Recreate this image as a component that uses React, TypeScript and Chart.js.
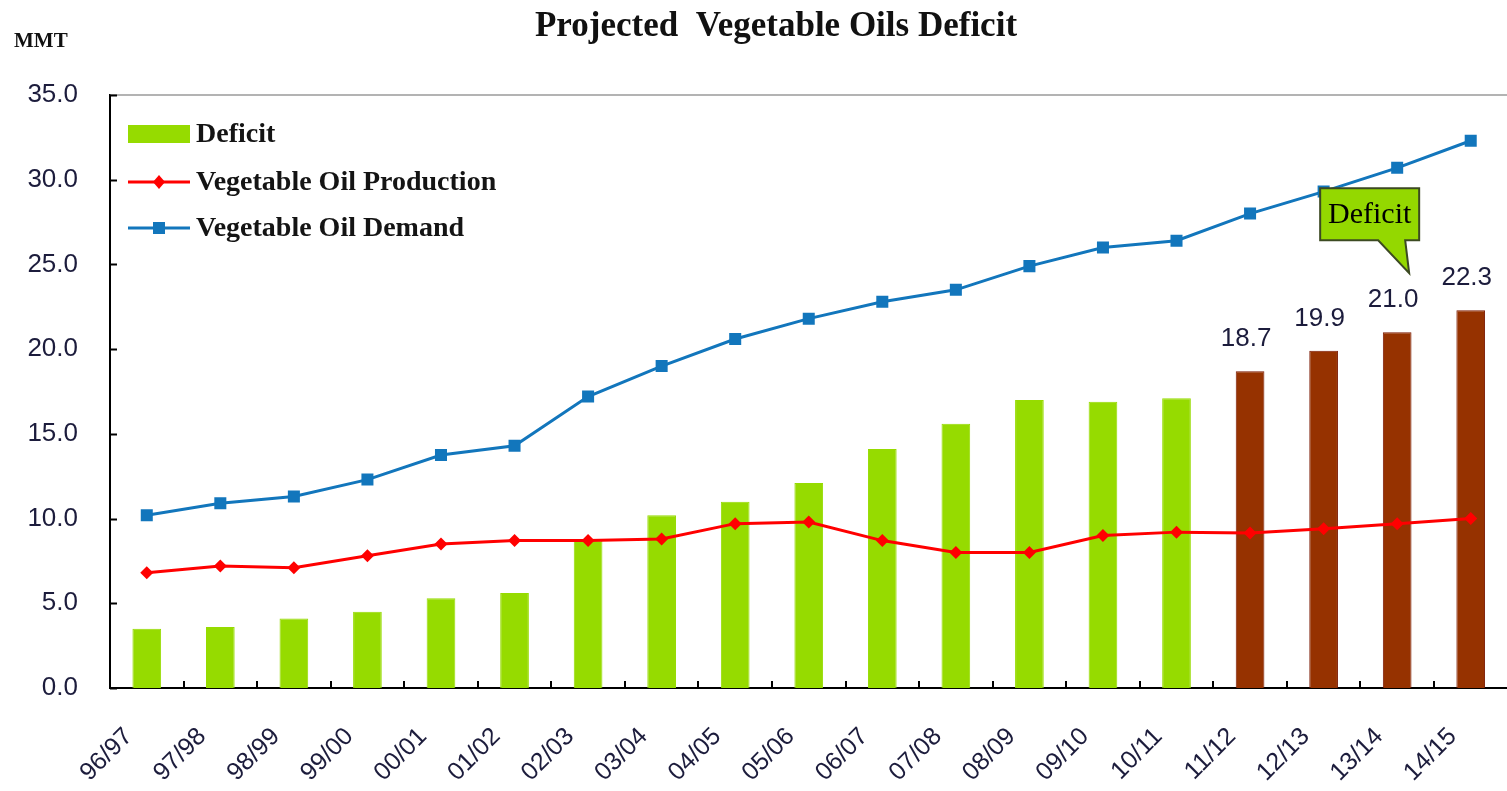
import React, { useEffect, useRef } from "react";
import { Chart, registerables } from "chart.js";

Chart.register(...registerables);

const categories = [
  "96/97", "97/98", "98/99", "99/00", "00/01", "01/02", "02/03", "03/04", "04/05", "05/06",
  "06/07", "07/08", "08/09", "09/10", "10/11", "11/12", "12/13", "13/14", "14/15",
];
const deficit = [3.5, 3.6, 4.1, 4.5, 5.3, 5.6, 8.7, 10.2, 11.0, 12.1, 14.1, 15.6, 17.0, 16.9, 17.1, 18.7, 19.9, 21.0, 22.3];
const production = [6.8, 7.2, 7.1, 7.8, 8.5, 8.7, 8.7, 8.8, 9.7, 9.8, 8.7, 8.0, 8.0, 9.0, 9.2, 9.15, 9.4, 9.7, 10.0];
const demand = [10.2, 10.9, 11.3, 12.3, 13.75, 14.3, 17.2, 19.0, 20.6, 21.8, 22.8, 23.5, 24.9, 26.0, 26.4, 28.0, 29.3, 30.7, 32.3];
const yTickValues = [0, 5, 10, 15, 20, 25, 30, 35];
const firstProjected = "11/12";
const calloutCategory = "13/14";

const TITLE = "Projected  Vegetable Oils Deficit";
const UNIT = "MMT";
const CALLOUT_TEXT = "Deficit";
const SERIES_NAMES = ["Deficit", "Vegetable Oil Production", "Vegetable Oil Demand"];

const GREEN = "#96DB00";
const BROWN = "#963200";
const BROWN_BORDER = "#7A1800";
const RED = "#FF0000";
const BLUE = "#1276BC";
const SERIF = "'Liberation Serif', 'Times New Roman', serif";
const SANS = "'Liberation Sans', Arial, sans-serif";
const TEXT_DARK = "#1c1c3c";

const VIEW_W = 1507;
const VIEW_H = 791;
const CANVAS_W = 1516;

export default function App() {
  const ref = useRef<HTMLCanvasElement>(null);

  useEffect(() => {
    document.body.style.margin = "0";
    const projStart = categories.indexOf(firstProjected);
    const barColors = categories.map((_, i) => (i >= projStart ? BROWN : GREEN));
    const barBorders = categories.map((_, i) => (i >= projStart ? BROWN_BORDER : GREEN));

    const decorPlugin = {
      id: "decor",
      afterDraw(chart: any) {
        const ctx = chart.ctx as CanvasRenderingContext2D;
        const area = chart.chartArea;
        const xs = chart.scales.x;
        const ys = chart.scales.y;
        ctx.save();

        // top frame line
        ctx.strokeStyle = "#9a9a9a";
        ctx.lineWidth = 1.5;
        ctx.beginPath();
        ctx.moveTo(area.left, area.top);
        ctx.lineTo(chart.width, area.top);
        ctx.stroke();

        // inward tick marks
        ctx.strokeStyle = "#000";
        ctx.lineWidth = 2;
        yTickValues.forEach((v) => {
          const y = Math.round(ys.getPixelForValue(v)) + 0.5;
          ctx.beginPath();
          ctx.moveTo(area.left, y);
          ctx.lineTo(area.left + 7, y);
          ctx.stroke();
        });
        for (let i = 1; i < categories.length; i++) {
          const x = Math.round((xs.getPixelForValue(i - 1) + xs.getPixelForValue(i)) / 2);
          ctx.beginPath();
          ctx.moveTo(x, area.bottom);
          ctx.lineTo(x, area.bottom - 7);
          ctx.stroke();
        }

        // title and unit
        ctx.fillStyle = "#111";
        ctx.font = `bold 35px ${SERIF}`;
        ctx.textAlign = "center";
        ctx.textBaseline = "middle";
        ctx.fillText(TITLE, 776, 27);
        ctx.font = `bold 21px ${SERIF}`;
        ctx.textAlign = "left";
        ctx.fillText(UNIT, 14, 42);

        // legend
        const rows = [134, 182, 228];
        const sx0 = area.left + 18;
        const sx1 = area.left + 80;
        ctx.fillStyle = GREEN;
        ctx.fillRect(sx0, rows[0] - 9, sx1 - sx0, 18);
        [RED, BLUE].forEach((c, k) => {
          const y = rows[k + 1];
          ctx.strokeStyle = c;
          ctx.lineWidth = 3;
          ctx.beginPath();
          ctx.moveTo(sx0, y);
          ctx.lineTo(sx1, y);
          ctx.stroke();
          ctx.fillStyle = c;
          const mx = (sx0 + sx1) / 2;
          if (k === 0) {
            ctx.beginPath();
            ctx.moveTo(mx, y - 7);
            ctx.lineTo(mx + 6, y);
            ctx.lineTo(mx, y + 7);
            ctx.lineTo(mx - 6, y);
            ctx.closePath();
            ctx.fill();
          } else {
            ctx.fillRect(mx - 6, y - 6, 12, 12);
          }
        });
        ctx.fillStyle = "#141414";
        ctx.font = `bold 28px ${SERIF}`;
        ctx.textAlign = "left";
        ctx.textBaseline = "middle";
        SERIES_NAMES.forEach((n, k) => ctx.fillText(n, sx1 + 6, rows[k] + 1));

        // value labels on projected bars
        const barMeta = chart.getDatasetMeta(0);
        ctx.fillStyle = TEXT_DARK;
        ctx.font = `26px ${SANS}`;
        ctx.textAlign = "center";
        ctx.textBaseline = "bottom";
        for (let i = projStart; i < categories.length; i++) {
          const el = barMeta.data[i];
          ctx.fillText(deficit[i].toFixed(1), el.x - 4, el.y - 19);
        }

        // callout
        const ci = categories.indexOf(calloutCategory);
        const cel = barMeta.data[ci];
        const tipX = cel.x + 12;
        const tipY = cel.y - 59;
        const L = tipX - 89, R = tipX + 10, T = tipY - 85, B = tipY - 33;
        ctx.beginPath();
        ctx.moveTo(L, T);
        ctx.lineTo(R, T);
        ctx.lineTo(R, B);
        ctx.lineTo(tipX - 4, B);
        ctx.lineTo(tipX, tipY);
        ctx.lineTo(tipX - 31, B);
        ctx.lineTo(L, B);
        ctx.closePath();
        ctx.fillStyle = "#94D800";
        ctx.fill();
        ctx.strokeStyle = "#3c4a22";
        ctx.lineWidth = 2;
        ctx.stroke();
        ctx.fillStyle = "#000";
        ctx.font = `30px ${SERIF}`;
        ctx.textAlign = "center";
        ctx.textBaseline = "middle";
        ctx.fillText(CALLOUT_TEXT, (L + R) / 2, (T + B) / 2 + 1);

        ctx.restore();
      },
    };

    const chart = new Chart(ref.current!, {
      type: "bar",
      data: {
        labels: categories,
        datasets: [
          {
            type: "bar",
            label: SERIES_NAMES[0],
            data: deficit,
            backgroundColor: barColors,
            borderColor: barBorders,
            borderWidth: 1,
            barPercentage: 0.39,
            categoryPercentage: 1,
            order: 3,
          },
          {
            type: "line",
            label: SERIES_NAMES[1],
            data: production,
            borderColor: RED,
            backgroundColor: RED,
            borderWidth: 3,
            pointStyle: "rectRot",
            pointRadius: 6.5,
            pointBorderWidth: 0,
            tension: 0,
            order: 2,
          },
          {
            type: "line",
            label: SERIES_NAMES[2],
            data: demand,
            borderColor: BLUE,
            backgroundColor: BLUE,
            borderWidth: 3,
            pointStyle: "rect",
            pointRadius: 8.5,
            pointBorderWidth: 0,
            tension: 0,
            order: 1,
          },
        ],
      },
      options: {
        responsive: false,
        animation: false,
        layout: { padding: { top: 95, left: 0, right: 0, bottom: 0 } },
        plugins: {
          legend: { display: false },
          title: { display: false },
          tooltip: { enabled: false },
        },
        scales: {
          x: {
            offset: true,
            grid: { display: false, drawTicks: false },
            border: { display: true, color: "#000", width: 2 },
            ticks: {
              maxRotation: 45,
              minRotation: 45,
              autoSkip: false,
              padding: 34,
              labelOffset: -18,
              color: TEXT_DARK,
              font: { family: SANS, size: 25 },
            },
            afterFit: (s: any) => {
              s.height = 103;
              s.paddingLeft = 0;
              s.paddingRight = 0;
            },
          },
          y: {
            min: 0,
            max: 35,
            grid: { display: false, drawTicks: false },
            border: { display: true, color: "#000", width: 2 },
            ticks: {
              stepSize: 5,
              padding: 32,
              color: TEXT_DARK,
              font: { family: SANS, size: 26 },
              callback: (v: any) => Number(v).toFixed(1),
            },
            afterFit: (s: any) => {
              s.width = 110;
            },
          },
        },
      },
      plugins: [decorPlugin],
    });
    return () => chart.destroy();
  }, []);

  return (
    <div style={{ position: "absolute", left: 0, top: 0, width: VIEW_W, height: VIEW_H, overflow: "hidden" }}>
      <canvas ref={ref} width={CANVAS_W} height={VIEW_H} style={{ display: "block" }} />
    </div>
  );
}
